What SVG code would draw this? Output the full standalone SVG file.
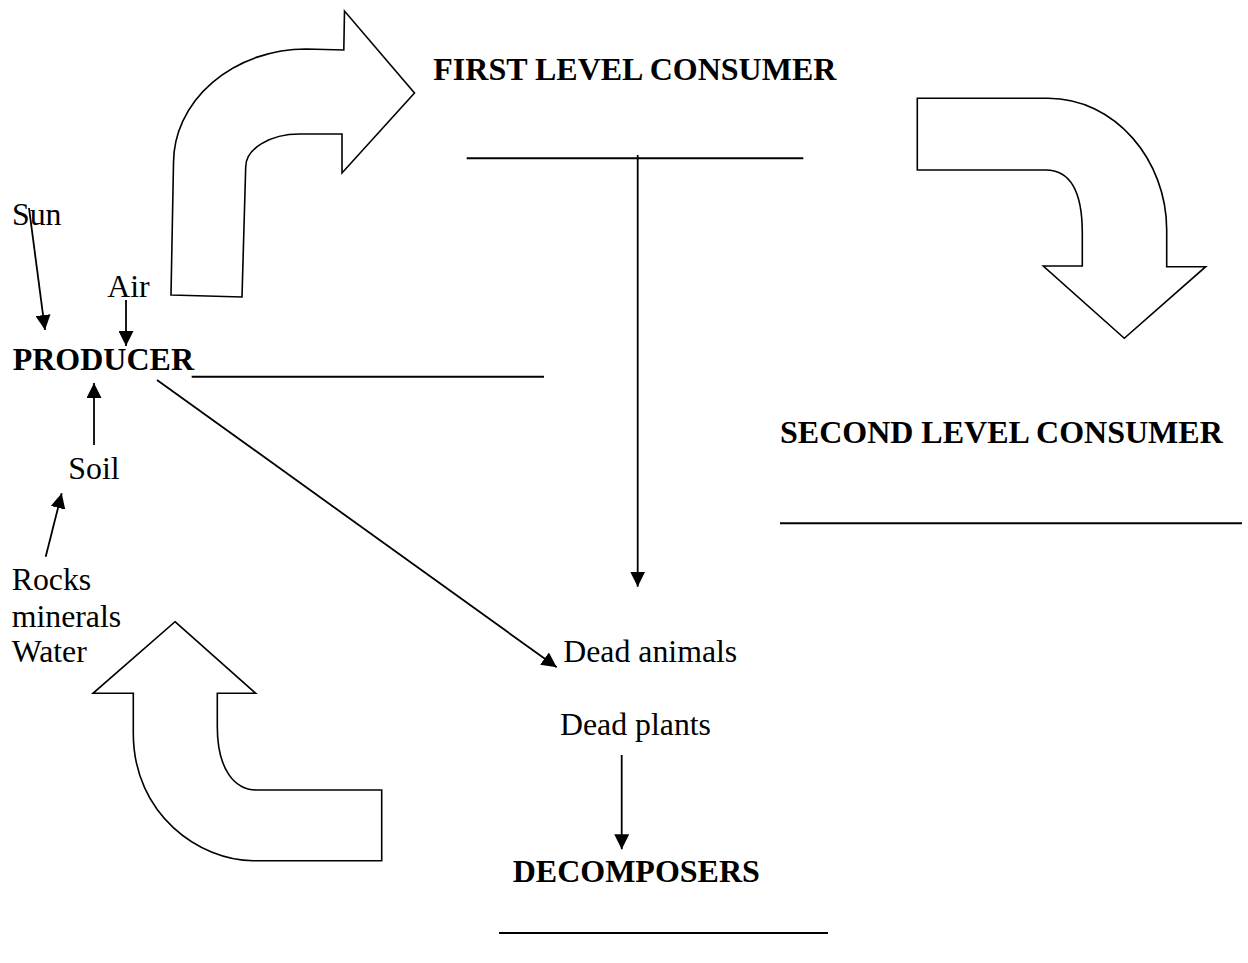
<svg xmlns="http://www.w3.org/2000/svg" width="1248" height="963" viewBox="0 0 1248 963">
<style>
text{font-family:"Liberation Serif","Times New Roman",serif;font-size:31.8px;fill:#000}
.b{font-weight:bold;font-size:32px}
.big{fill:#fff;stroke:#000;stroke-width:1.6;stroke-linejoin:miter}
.ln{stroke:#000;stroke-width:2;fill:none}
.ar{stroke:#000;stroke-width:1.8;fill:none;marker-end:url(#ah)}
</style>
<defs>
<marker id="ah" viewBox="0 0 15 15" refX="15" refY="7.5" markerWidth="15" markerHeight="15" markerUnits="userSpaceOnUse" orient="auto">
<path d="M0,0 L15,7.5 L0,15 Z" fill="#000"/>
</marker>
</defs>
<rect width="1248" height="963" fill="#fff"/>

<g id="arrow-top-left">
<path class="big" d="M171,295 L242,297 L245.7,167 A54 33 0 0 1 300,134 L342,134 L342,173 L414.5,93 L344.5,11 L343.8,50 L306,49 A133 114 0 0 0 173.5,163 Z"/>
</g>
<g id="arrow-top-right">
<path class="big" d="M917.3,98.3 L1048,98.3 C1115,98.3 1166.7,160 1166.7,230 L1166.7,266.7 L1205.7,266.7 L1124.3,338.3 L1043.3,266 L1082.3,266 L1082.3,233 C1082.3,195 1072,170 1045.7,170 L917.3,170 Z"/>
</g>
<g id="arrow-bottom-left">
<path class="big" d="M175,621.7 L255.7,693.3 L217.3,693.3 L217.3,726.7 C217.3,770 235,790 256.7,790 L381.7,790 L381.7,860.7 L253.3,860.7 C200,860.7 133.3,815 133.3,733.3 L133.3,693.3 L93,693.3 Z"/>
</g>

<g id="producer">
<text class="b" x="12.7" y="370">PRODUCER</text>
<line class="ln" x1="191.7" y1="376.7" x2="544" y2="376.7"/>
</g>
<g id="first-level-consumer">
<text class="b" x="433.3" y="80">FIRST LEVEL CONSUMER</text>
<line class="ln" x1="466.7" y1="158.3" x2="803.3" y2="158.3"/>
</g>
<g id="second-level-consumer">
<text class="b" x="780" y="443.3">SECOND LEVEL CONSUMER</text>
<line class="ln" x1="780" y1="523.3" x2="1242" y2="523.3"/>
</g>
<g id="decomposers">
<text class="b" x="512.7" y="881.7">DECOMPOSERS</text>
<line class="ln" x1="499" y1="933" x2="828" y2="933"/>
</g>
<g id="sun"><text x="12" y="225">Sun</text></g>
<g id="air"><text x="107.3" y="297.3">Air</text></g>
<g id="soil"><text x="68.3" y="479">Soil</text></g>
<g id="rocks">
<text x="11.7" y="590">Rocks</text>
<text x="11.7" y="626.7">minerals</text>
<text x="11.7" y="661.7">Water</text>
</g>
<g id="dead-animals"><text x="563.3" y="661.7">Dead animals</text></g>
<g id="dead-plants"><text x="560" y="735">Dead plants</text></g>

<g id="connectors">
<line class="ar" x1="29" y1="208" x2="45" y2="330"/>
<line class="ar" x1="126" y1="300" x2="126" y2="346"/>
<line class="ar" x1="94" y1="445" x2="94" y2="383"/>
<line class="ar" x1="45.7" y1="556.7" x2="61.7" y2="493.3"/>
<line class="ar" x1="157" y1="380" x2="556.7" y2="667.3"/>
<line class="ar" x1="637.7" y1="155" x2="637.7" y2="586.7"/>
<line class="ar" x1="621.7" y1="755" x2="621.7" y2="849.3"/>
</g>
</svg>
